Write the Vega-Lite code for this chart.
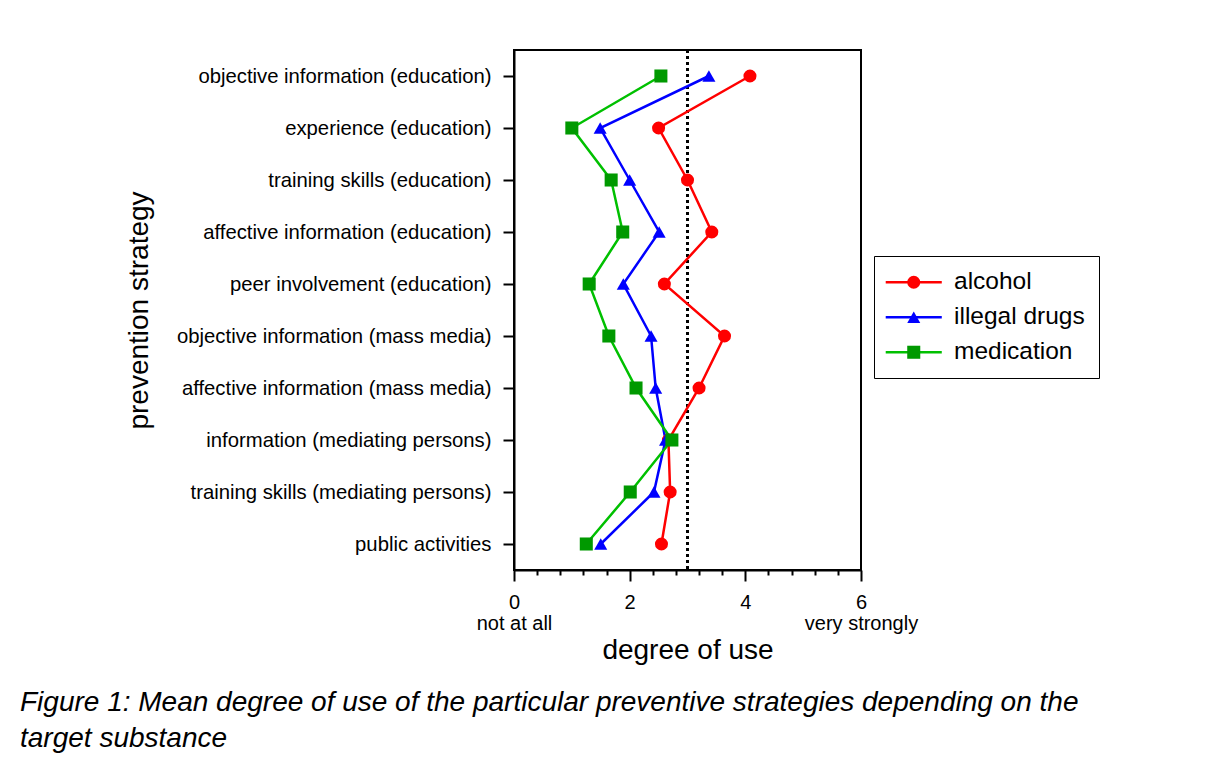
{
  "$schema": "https://vega.github.io/schema/vega-lite/v6.json",
  "width": 347,
  "height": 520,
  "autosize": {"type": "none"},
  "padding": {"left": 514, "top": 50, "right": 345, "bottom": 192},
  "background": "white",
  "config": {
    "font": "Liberation Sans",
    "view": {"stroke": "black", "strokeWidth": 2},
    "axis": {
      "domainColor": "black",
      "domainWidth": 2,
      "tickColor": "black",
      "tickWidth": 2,
      "labelColor": "black",
      "titleColor": "black",
      "grid": false,
      "labelFont": "Liberation Sans",
      "titleFont": "Liberation Sans",
      "titleFontWeight": "normal"
    }
  },
  "title": {
    "text": ["Figure 1: Mean degree of use of the particular preventive strategies depending on the", "target substance"],
    "orient": "bottom",
    "anchor": "start",
    "frame": "group",
    "dx": -494,
    "offset": 25,
    "fontSize": 28,
    "fontStyle": "italic",
    "fontWeight": "normal",
    "font": "Liberation Sans",
    "color": "black",
    "lineHeight": 36
  },
  "resolve": {"axis": {"x": "independent"}},
  "layer": [
    {
      "data": {"values": [{"neutral": 3}]},
      "mark": {"type": "rule", "strokeDash": [3, 3], "strokeWidth": 3, "color": "black"},
      "encoding": {
        "x": {
          "field": "neutral",
          "type": "quantitative",
          "axis": {
            "orient": "bottom",
            "values": [0.4, 0.8, 1.2, 1.6, 2.4, 2.8, 3.2, 3.6, 4.4, 4.8, 5.2, 5.6],
            "labels": false,
            "domain": false,
            "tickSize": 5,
            "title": null
          }
        }
      }
    },
    {
      "data": {
        "values": [
          {"strategy": "objective information (education)", "rank": 1, "substance": "alcohol", "value": 4.08},
          {"strategy": "objective information (education)", "rank": 1, "substance": "illegal drugs", "value": 3.37},
          {"strategy": "objective information (education)", "rank": 1, "substance": "medication", "value": 2.54},
          {"strategy": "experience (education)", "rank": 2, "substance": "alcohol", "value": 2.5},
          {"strategy": "experience (education)", "rank": 2, "substance": "illegal drugs", "value": 1.49},
          {"strategy": "experience (education)", "rank": 2, "substance": "medication", "value": 1.0},
          {"strategy": "training skills (education)", "rank": 3, "substance": "alcohol", "value": 3.0},
          {"strategy": "training skills (education)", "rank": 3, "substance": "illegal drugs", "value": 2.0},
          {"strategy": "training skills (education)", "rank": 3, "substance": "medication", "value": 1.68},
          {"strategy": "affective information (education)", "rank": 4, "substance": "alcohol", "value": 3.42},
          {"strategy": "affective information (education)", "rank": 4, "substance": "illegal drugs", "value": 2.51},
          {"strategy": "affective information (education)", "rank": 4, "substance": "medication", "value": 1.88},
          {"strategy": "peer involvement (education)", "rank": 5, "substance": "alcohol", "value": 2.6},
          {"strategy": "peer involvement (education)", "rank": 5, "substance": "illegal drugs", "value": 1.89},
          {"strategy": "peer involvement (education)", "rank": 5, "substance": "medication", "value": 1.3},
          {"strategy": "objective information (mass media)", "rank": 6, "substance": "alcohol", "value": 3.64},
          {"strategy": "objective information (mass media)", "rank": 6, "substance": "illegal drugs", "value": 2.37},
          {"strategy": "objective information (mass media)", "rank": 6, "substance": "medication", "value": 1.64},
          {"strategy": "affective information (mass media)", "rank": 7, "substance": "alcohol", "value": 3.2},
          {"strategy": "affective information (mass media)", "rank": 7, "substance": "illegal drugs", "value": 2.45},
          {"strategy": "affective information (mass media)", "rank": 7, "substance": "medication", "value": 2.11},
          {"strategy": "information (mediating persons)", "rank": 8, "substance": "alcohol", "value": 2.67},
          {"strategy": "information (mediating persons)", "rank": 8, "substance": "illegal drugs", "value": 2.62},
          {"strategy": "information (mediating persons)", "rank": 8, "substance": "medication", "value": 2.73},
          {"strategy": "training skills (mediating persons)", "rank": 9, "substance": "alcohol", "value": 2.7},
          {"strategy": "training skills (mediating persons)", "rank": 9, "substance": "illegal drugs", "value": 2.42},
          {"strategy": "training skills (mediating persons)", "rank": 9, "substance": "medication", "value": 2.01},
          {"strategy": "public activities", "rank": 10, "substance": "alcohol", "value": 2.55},
          {"strategy": "public activities", "rank": 10, "substance": "illegal drugs", "value": 1.5},
          {"strategy": "public activities", "rank": 10, "substance": "medication", "value": 1.25}
        ]
      },
      "encoding": {
        "x": {
          "field": "value",
          "type": "quantitative",
          "scale": {"domain": [0, 6], "nice": false, "zero": false},
          "axis": {
            "orient": "bottom",
            "title": "degree of use",
            "titleFontSize": 28,
            "titlePadding": 3,
            "values": [0, 2, 4, 6],
            "labelExpr": "datum.value == 0 ? ['0', 'not at all'] : datum.value == 6 ? ['6', 'very strongly'] : datum.value == 2 ? '2' : '4'",
            "tickSize": 11,
            "labelFontSize": 20,
            "labelPadding": 11,
            "labelLineHeight": 21,
            "labelFlush": false,
            "labelOverlap": false
          }
        },
        "y": {
          "field": "strategy",
          "type": "nominal",
          "sort": [
            "objective information (education)",
            "experience (education)",
            "training skills (education)",
            "affective information (education)",
            "peer involvement (education)",
            "objective information (mass media)",
            "affective information (mass media)",
            "information (mediating persons)",
            "training skills (mediating persons)",
            "public activities"
          ],
          "scale": {"type": "point", "padding": 0.5},
          "axis": {
            "title": "prevention strategy",
            "titleFontSize": 28,
            "titleAngle": -90,
            "titleX": -367,
            "titleY": 260,
            "titleAlign": "center",
            "titleBaseline": "alphabetic",
            "labelFontSize": 20.3,
            "labelPadding": 12,
            "tickSize": 11,
            "labelLimit": 400
          }
        }
      },
      "layer": [
        {
          "mark": {"type": "line", "strokeWidth": 2.5},
          "encoding": {
            "order": {"field": "rank", "type": "quantitative"},
            "stroke": {
              "field": "substance",
              "type": "nominal",
              "scale": {"range": ["#FF0000", "#0000FF", "#00C000"]},
              "legend": {
                "orient": "none",
                "legendX": 360,
                "legendY": 206,
                "title": null,
                "symbolType": "M-4.3,0H4.3",
                "symbolSize": 170,
                "symbolStrokeWidth": 2.5,
                "symbolOffset": 13.5,
                "labelOffset": 28,
                "labelFontSize": 24.5,
                "labelFont": "Liberation Sans",
                "labelColor": "black",
                "padding": 14,
                "rowPadding": 10,
                "strokeColor": "black"
              }
            }
          }
        },
        {
          "mark": {"type": "point", "filled": true, "size": 170, "opacity": 1},
          "encoding": {
            "fill": {
              "field": "substance",
              "type": "nominal",
              "scale": {"domain": ["alcohol", "illegal drugs", "medication"], "range": ["#FF0000", "#0000FF", "#009900"]},
              "legend": {
                "orient": "none",
                "legendX": 360,
                "legendY": 206,
                "title": null,
                "symbolSize": 170,
                "symbolStrokeWidth": 0,
                "symbolOffset": 13.5,
                "labelOffset": 28,
                "labelFontSize": 24.5,
                "labelFont": "Liberation Sans",
                "labelOpacity": 0,
                "padding": 14,
                "rowPadding": 10
              }
            },
            "shape": {
              "field": "substance",
              "type": "nominal",
              "scale": {"domain": ["alcohol", "illegal drugs", "medication"], "range": ["circle", "triangle-up", "square"]},
              "legend": {
                "orient": "none",
                "legendX": 360,
                "legendY": 206,
                "title": null,
                "symbolSize": 170,
                "symbolStrokeWidth": 0,
                "symbolOffset": 13.5,
                "labelOffset": 28,
                "labelFontSize": 24.5,
                "labelFont": "Liberation Sans",
                "labelOpacity": 0,
                "padding": 14,
                "rowPadding": 10
              }
            }
          }
        }
      ]
    }
  ]
}
